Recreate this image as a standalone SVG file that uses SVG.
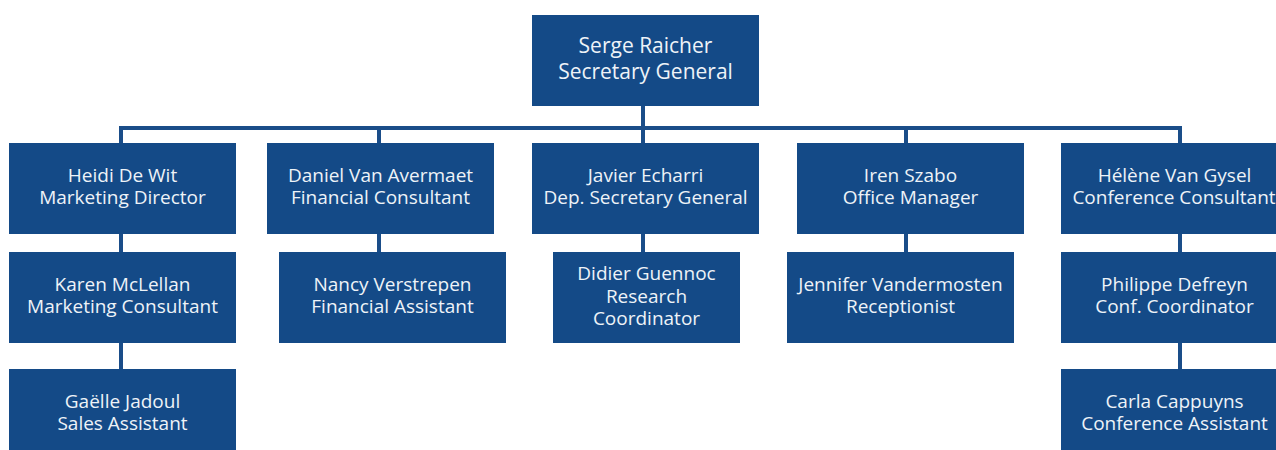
<svg xmlns="http://www.w3.org/2000/svg" width="1276" height="450" viewBox="0 0 1276 450">
  <style>
    .box { fill: #144a87; }
    .lbl { fill: #eef3f8; font-family: "Open Sans", "Noto Sans", "Liberation Sans", sans-serif; font-size: 19px; text-anchor: middle; }
    .top { font-size: 21px; }
    .link { fill: none; stroke: #1a4d89; stroke-width: 4; stroke-linecap: butt; stroke-linejoin: miter; }
  </style>
  <rect width="1276" height="450" fill="#ffffff"/>

  <!-- reporting lines -->
  <g id="connectors">
    <path class="link" d="M643 106 V143"/>
    <path class="link" d="M121 143 V128 H1180 V143"/>
    <path class="link" d="M379 128 V143"/>
    <path class="link" d="M906 128 V143"/>
    <path class="link" d="M121 234 V252"/>
    <path class="link" d="M121 343 V369"/>
    <path class="link" d="M379 234 V252"/>
    <path class="link" d="M643 234 V252"/>
    <path class="link" d="M906 234 V252"/>
    <path class="link" d="M1180 234 V252"/>
    <path class="link" d="M1180 343 V369"/>
  </g>

  <g id="serge-raicher">
    <rect class="box" x="532" y="15" width="227" height="91"/>
    <text class="lbl top" x="645.5" y="53">Serge Raicher</text>
    <text class="lbl top" x="645.5" y="79">Secretary General</text>
  </g>

  <g id="heidi-de-wit">
    <rect class="box" x="9" y="143" width="227" height="91"/>
    <text class="lbl" x="122.5" y="182">Heidi De Wit</text>
    <text class="lbl" x="122.5" y="204">Marketing Director</text>
  </g>
  <g id="daniel-van-avermaet">
    <rect class="box" x="267" y="143" width="227" height="91"/>
    <text class="lbl" x="380.5" y="182">Daniel Van Avermaet</text>
    <text class="lbl" x="380.5" y="204">Financial Consultant</text>
  </g>
  <g id="javier-echarri">
    <rect class="box" x="532" y="143" width="227" height="91"/>
    <text class="lbl" x="645.5" y="182">Javier Echarri</text>
    <text class="lbl" x="645.5" y="204">Dep. Secretary General</text>
  </g>
  <g id="iren-szabo">
    <rect class="box" x="797" y="143" width="227" height="91"/>
    <text class="lbl" x="910.5" y="182">Iren Szabo</text>
    <text class="lbl" x="910.5" y="204">Office Manager</text>
  </g>
  <g id="helene-van-gysel">
    <rect class="box" x="1061" y="143" width="227" height="91"/>
    <text class="lbl" x="1174.5" y="182">Hélène Van Gysel</text>
    <text class="lbl" x="1174" y="204">Conference Consultant</text>
  </g>

  <g id="karen-mclellan">
    <rect class="box" x="9" y="252" width="227" height="91"/>
    <text class="lbl" x="122.5" y="291">Karen McLellan</text>
    <text class="lbl" x="122.5" y="313">Marketing Consultant</text>
  </g>
  <g id="nancy-verstrepen">
    <rect class="box" x="279" y="252" width="227" height="91"/>
    <text class="lbl" x="392.5" y="291">Nancy Verstrepen</text>
    <text class="lbl" x="392.5" y="313">Financial Assistant</text>
  </g>
  <g id="didier-guennoc">
    <rect class="box" x="553" y="252" width="187" height="91"/>
    <text class="lbl" x="646.5" y="280">Didier Guennoc</text>
    <text class="lbl" x="646.5" y="303">Research</text>
    <text class="lbl" x="646.5" y="325">Coordinator</text>
  </g>
  <g id="jennifer-vandermosten">
    <rect class="box" x="787" y="252" width="227" height="91"/>
    <text class="lbl" x="900.5" y="291">Jennifer Vandermosten</text>
    <text class="lbl" x="900.5" y="313">Receptionist</text>
  </g>
  <g id="philippe-defreyn">
    <rect class="box" x="1061" y="252" width="227" height="91"/>
    <text class="lbl" x="1174.5" y="291">Philippe Defreyn</text>
    <text class="lbl" x="1174.5" y="313">Conf. Coordinator</text>
  </g>

  <g id="gaelle-jadoul">
    <rect class="box" x="9" y="369" width="227" height="81"/>
    <text class="lbl" x="122.5" y="408">Gaëlle Jadoul</text>
    <text class="lbl" x="122.5" y="430">Sales Assistant</text>
  </g>
  <g id="carla-cappuyns">
    <rect class="box" x="1061" y="369" width="227" height="81"/>
    <text class="lbl" x="1174.5" y="408">Carla Cappuyns</text>
    <text class="lbl" x="1174.5" y="430">Conference Assistant</text>
  </g>
</svg>
